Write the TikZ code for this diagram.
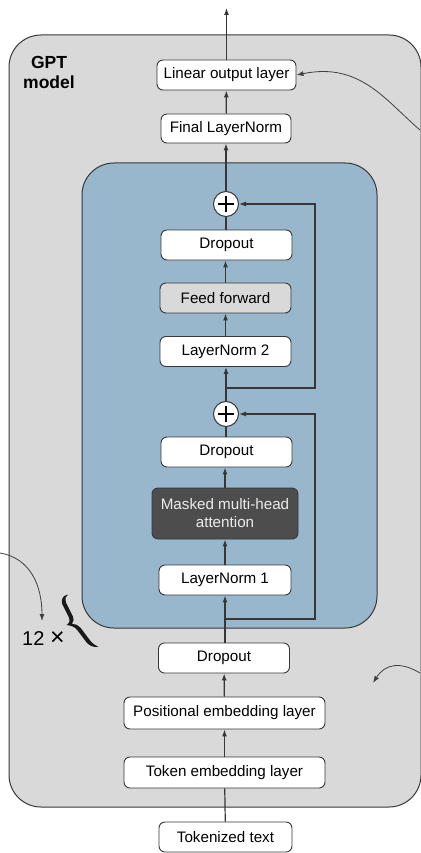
\documentclass[tikz,border=0pt]{standalone}
\usepackage{fontspec}
\setmainfont{Liberation Sans}
\usetikzlibrary{arrows.meta}
\definecolor{panelgray}{RGB}{217,217,217}
\definecolor{blockblue}{RGB}{152,183,205}
\definecolor{attnfill}{RGB}{77,77,77}
\definecolor{edge}{RGB}{55,55,55}
\tikzset{
  layer/.style={draw=edge, line width=0.9pt, rounded corners=6pt, fill=white,
    minimum height=30pt, inner sep=2pt, font=\fontsize{15.2}{18}\selectfont, text=black},
  sumnode/.style={draw=edge, line width=1pt, circle, fill=white, minimum size=25pt, inner sep=0pt,
    path picture={
      \draw[line width=1.3pt, black]
        ([xshift=-8pt]path picture bounding box.center) -- ([xshift=8pt]path picture bounding box.center)
        ([yshift=-8pt]path picture bounding box.center) -- ([yshift=8pt]path picture bounding box.center);
    }},
  flow/.style={draw=edge, line width=1.2pt},
  arr/.style={flow, -{Latex[length=7pt,width=5pt]}},
  note/.style={draw=black!75, line width=0.8pt, -{Latex[length=7pt,width=5pt]}},
}
\begin{document}
\begin{tikzpicture}[x=1pt,y=-1pt]
\useasboundingbox (0,0) rectangle (420,853);

% outer model panel and transformer block
\draw[edge, line width=1pt, fill=panelgray, rounded corners=32pt] (9,35) rectangle (421,807);
\draw[edge, line width=1pt, fill=blockblue, rounded corners=32pt] (82,163) rectangle (377,628);

\node[font=\fontsize{17.5}{20}\selectfont\bfseries, align=center] (title) at (49,72) {GPT\\model};

% layers
\node[layer, minimum width=133pt] (txt) at (225.5,837) {Tokenized text};
\node[layer, minimum width=201pt, minimum height=31pt] (tok) at (224.5,772.5) {Token embedding layer};
\node[layer, minimum width=201pt, minimum height=32pt] (pos) at (224.5,713) {Positional embedding layer};
\node[layer, minimum width=131pt] (drop0) at (224,658) {Dropout};

\node[layer, minimum width=132pt] (ln1) at (225,580) {LayerNorm 1};
\node[layer, minimum width=146pt, minimum height=51pt, fill=attnfill, text=white!92!black, align=center,
      font=\fontsize{15.2}{18}\selectfont] (mha) at (225,513.5) {Masked multi-head\\attention};
\node[layer, minimum width=131pt] (drop1) at (226.5,452) {Dropout};
\node[sumnode] (sum1) at (226,414) {};

\node[layer, minimum width=131pt] (ln2) at (225.5,351.5) {LayerNorm 2};
\node[layer, minimum width=131pt, fill=panelgray] (ff) at (225.5,298) {Feed forward};
\node[layer, minimum width=131pt] (drop2) at (226.5,245) {Dropout};
\node[sumnode] (sum2) at (226,204) {};

\node[layer, minimum width=130pt, minimum height=29pt] (fln) at (226,128.5) {Final LayerNorm};
\node[layer, minimum width=139pt] (lin) at (226.5,75) {Linear output layer};
\coordinate (out) at (226.5,8);

% main data path
\draw[flow] (txt) -- (tok);
\draw[arr] (tok) -- (pos);
\draw[arr] (pos) -- (drop0);
\draw[arr] (drop0.north -| ln1) -- (ln1);
\draw[arr] (ln1) -- (mha);
\draw[arr] (mha) -- (drop1.south -| mha);
\draw[flow] (drop1.north -| sum1) -- (sum1);
\draw[arr] (sum1) -- (ln2.south -| sum1);
\draw[arr] (ln2) -- (ff);
\draw[arr] (ff) -- (drop2.south -| ff);
\draw[flow] (drop2.north -| sum2) -- (sum2);
\draw[arr] (sum2) -- (fln);
\draw[arr] (fln) -- (lin);
\draw[arr] (lin) -- (out);

% shortcut connections
\coordinate (skip) at (315,0);
\coordinate (tap1) at (225,619);
\coordinate (tap2) at (226,388);
\draw[arr] (tap1) -- (tap1 -| skip) |- (sum1);
\draw[arr] (tap2) -- (tap2 -| skip) |- (sum2);

% repetition marker: count and a tilted curly brace
\node[font=\fontsize{20}{24}\selectfont, anchor=base west, inner sep=0pt] (rep) at (22,645)
  {12 {\fontsize{25}{25}\selectfont ×}};
\fill[black!90]
  (68,594.5) .. controls (62.5,595.5) and (61,599.5) .. (62.2,603.9) -- (69.2,617.9)
  .. controls (70.3,620.5) and (69.5,623) .. (66.5,625)
  .. controls (71.5,625.5) and (75,627) .. (77.4,630.2) -- (86.4,642.2)
  .. controls (89,645.5) and (93,647.5) .. (98.5,647)
  .. controls (95,645.5) and (92,643) .. (89.6,639.8) -- (80.6,627.8)
  .. controls (78.5,625) and (75.5,624) .. (72,623.8)
  .. controls (74,621.5) and (74,619) .. (72.8,616.1) -- (65.8,602.1)
  .. controls (64.8,599) and (65.5,596) .. (68,594.5) -- cycle;

% callout arrows
\coordinate (c1) at (0,553);
\coordinate (c1e) at (42,621);
\draw[note] (c1) .. controls (30,558) and (42,585) .. (c1e);
\coordinate (c2) at (420,130);
\draw[note] (c2) .. controls (385,100) and (360,62) .. (lin.east);
\coordinate (c3) at (420,673);
\coordinate (c3e) at (373,683);
\draw[note] (c3) .. controls (400,661) and (385,664) .. (c3e);
\end{tikzpicture}
\end{document}
